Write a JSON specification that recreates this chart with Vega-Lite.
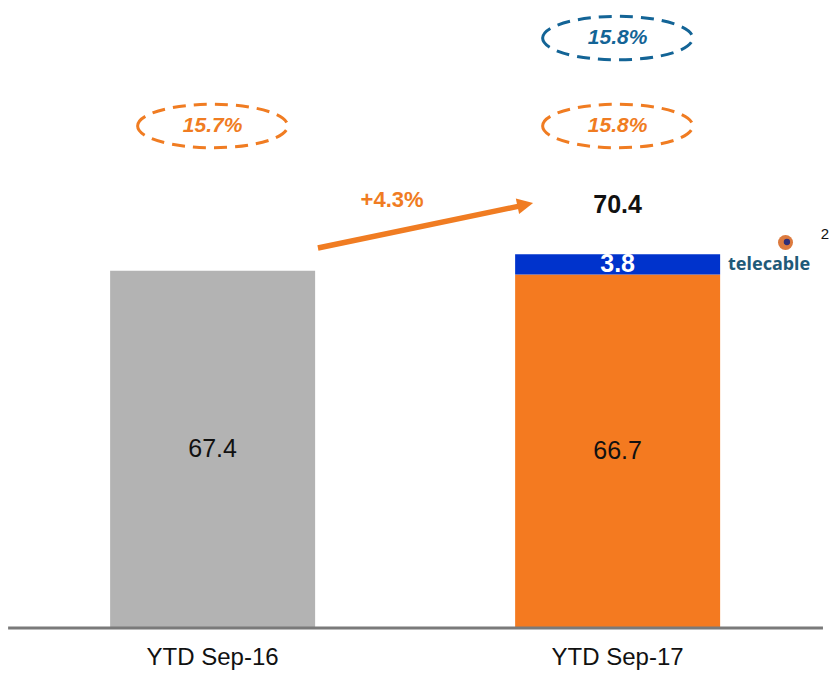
{
  "$schema": "https://vega.github.io/schema/vega-lite/v6.json",
  "width": 832,
  "height": 673,
  "padding": 0,
  "autosize": {"type": "none"},
  "background": "white",
  "config": {
    "view": {"stroke": null},
    "text": {"font": "Liberation Sans"}
  },
  "datasets": {
    "bars": [
      {"period": "YTD Sep-16", "pos": 1, "segment": "Sep-16", "value": 67.4, "order": 1},
      {"period": "YTD Sep-17", "pos": 2, "segment": "Organic", "value": 66.7, "order": 1},
      {"period": "YTD Sep-17", "pos": 2, "segment": "Telecable", "value": 3.8, "order": 2}
    ],
    "periods": [
      {"period": "YTD Sep-16", "pos": 1},
      {"period": "YTD Sep-17", "pos": 2}
    ],
    "margin": [
      {"pos": 1, "margin": "15.7%"},
      {"pos": 2, "margin": "15.8%"}
    ],
    "marginTotal": [
      {"pos": 2, "margin": "15.8%"}
    ],
    "total": [
      {"pos": 2, "total": "70.4"}
    ],
    "growth": [
      {"growth": "+4.3%"}
    ],
    "logo": [
      {"brand": "telecable", "note": "2"}
    ]
  },
  "layer": [
    {
      "data": {"name": "bars"},
      "transform": [
        {"stack": "value", "groupby": ["pos"], "sort": [{"field": "order", "order": "ascending"}], "as": ["v0", "v1"]}
      ],
      "mark": {"type": "bar", "width": 205, "orient": "vertical"},
      "encoding": {
        "x": {"field": "pos", "type": "quantitative", "axis": null, "scale": {"domain": [0.475, 2.5293], "nice": false, "zero": false, "padding": 0}},
        "y": {"field": "v1", "type": "quantitative", "axis": null, "scale": {"domain": [-8.49, 118.49], "nice": false, "zero": false, "padding": 0}},
        "y2": {"field": "v0"},
        "color": {"field": "segment", "type": "nominal", "legend": null, "scale": {"domain": ["Sep-16", "Organic", "Telecable"], "range": ["#b3b3b3", "#f47a20", "#0033cc"]}}
      }
    },
    {
      "data": {"values": [{}]},
      "mark": {"type": "rule", "color": "#7a7a7a", "strokeWidth": 3},
      "encoding": {
        "x": {"datum": 0.495, "type": "quantitative"},
        "x2": {"datum": 2.507},
        "y": {"datum": 0, "type": "quantitative"}
      }
    },
    {
      "data": {"name": "bars"},
      "transform": [
        {"stack": "value", "groupby": ["pos"], "sort": [{"field": "order", "order": "ascending"}], "as": ["v0", "v1"]},
        {"fold": ["v0", "v1"], "as": ["edgeName", "edge"]},
        {"aggregate": [{"op": "mean", "field": "edge", "as": "mid"}], "groupby": ["pos", "segment", "value"]},
        {"filter": "datum.segment !== 'Telecable'"}
      ],
      "mark": {"type": "text", "fontSize": 25, "color": "#111111", "baseline": "middle", "align": "center"},
      "encoding": {
        "x": {"field": "pos", "type": "quantitative"},
        "y": {"field": "mid", "type": "quantitative"},
        "text": {"field": "value", "type": "quantitative", "format": ".1f"}
      }
    },
    {
      "data": {"name": "bars"},
      "transform": [
        {"stack": "value", "groupby": ["pos"], "sort": [{"field": "order", "order": "ascending"}], "as": ["v0", "v1"]},
        {"fold": ["v0", "v1"], "as": ["edgeName", "edge"]},
        {"aggregate": [{"op": "mean", "field": "edge", "as": "mid"}], "groupby": ["pos", "segment", "value"]},
        {"filter": "datum.segment === 'Telecable'"}
      ],
      "mark": {"type": "text", "fontSize": 25, "fontWeight": "bold", "color": "white", "baseline": "middle", "align": "center"},
      "encoding": {
        "x": {"field": "pos", "type": "quantitative"},
        "y": {"field": "mid", "type": "quantitative"},
        "text": {"field": "value", "type": "quantitative", "format": ".1f"}
      }
    },
    {
      "data": {"name": "periods"},
      "mark": {"type": "text", "fontSize": 24, "color": "#111111", "baseline": "middle", "align": "center"},
      "encoding": {
        "x": {"field": "pos", "type": "quantitative"},
        "y": {"datum": -5.66, "type": "quantitative"},
        "text": {"field": "period"}
      }
    },
    {
      "data": {"name": "margin"},
      "mark": {"type": "point", "shape": "M -1 0 C -1 -0.16 -0.5523 -0.29 0 -0.29 C 0.5523 -0.29 1 -0.16 1 0 C 1 0.16 0.5523 0.29 0 0.29 C -0.5523 0.29 -1 0.16 -1 0 Z", "size": 22500, "filled": false, "stroke": "#f07c22", "strokeWidth": 3, "strokeDash": [13, 8], "opacity": 1},
      "encoding": {
        "x": {"field": "pos", "type": "quantitative"},
        "y": {"datum": 94.72, "type": "quantitative"}
      }
    },
    {
      "data": {"name": "margin"},
      "mark": {"type": "text", "fontSize": 21, "fontWeight": "bold", "fontStyle": "italic", "color": "#f07c22", "baseline": "middle", "align": "center"},
      "encoding": {
        "x": {"field": "pos", "type": "quantitative"},
        "y": {"datum": 94.72, "type": "quantitative"},
        "text": {"field": "margin"}
      }
    },
    {
      "data": {"name": "marginTotal"},
      "mark": {"type": "point", "shape": "M -1 0 C -1 -0.16 -0.5523 -0.29 0 -0.29 C 0.5523 -0.29 1 -0.16 1 0 C 1 0.16 0.5523 0.29 0 0.29 C -0.5523 0.29 -1 0.16 -1 0 Z", "size": 22500, "filled": false, "stroke": "#136496", "strokeWidth": 3, "strokeDash": [13, 8], "opacity": 1},
      "encoding": {
        "x": {"field": "pos", "type": "quantitative"},
        "y": {"datum": 111.3, "type": "quantitative"}
      }
    },
    {
      "data": {"name": "marginTotal"},
      "mark": {"type": "text", "fontSize": 21, "fontWeight": "bold", "fontStyle": "italic", "color": "#136496", "baseline": "middle", "align": "center"},
      "encoding": {
        "x": {"field": "pos", "type": "quantitative"},
        "y": {"datum": 111.3, "type": "quantitative"},
        "text": {"field": "margin"}
      }
    },
    {
      "data": {"name": "total"},
      "mark": {"type": "text", "fontSize": 25, "fontWeight": "bold", "color": "#111111", "baseline": "middle", "align": "center"},
      "encoding": {
        "x": {"field": "pos", "type": "quantitative"},
        "y": {"datum": 79.8, "type": "quantitative"},
        "text": {"field": "total"}
      }
    },
    {
      "data": {"values": [{}]},
      "mark": {"type": "rule", "color": "#f07c22", "strokeWidth": 5.5},
      "encoding": {
        "x": {"datum": 1.26, "type": "quantitative"},
        "y": {"datum": 71.7, "type": "quantitative"},
        "x2": {"datum": 1.757},
        "y2": {"datum": 79.6}
      }
    },
    {
      "data": {"values": [{}]},
      "mark": {"type": "point", "shape": "M 1 0 L -1 -1 L -1 1 Z", "size": 256, "filled": true, "color": "#f07c22", "opacity": 1, "angle": 348},
      "encoding": {
        "x": {"datum": 1.772, "type": "quantitative"},
        "y": {"datum": 79.89, "type": "quantitative"}
      }
    },
    {
      "data": {"name": "growth"},
      "mark": {"type": "text", "fontSize": 22, "fontWeight": "bold", "color": "#f07c22", "baseline": "middle", "align": "center"},
      "encoding": {
        "x": {"datum": 1.443, "type": "quantitative"},
        "y": {"datum": 80.75, "type": "quantitative"},
        "text": {"field": "growth"}
      }
    },
    {
      "data": {"values": [{}]},
      "mark": {"type": "point", "shape": "circle", "size": 225, "filled": true, "color": "#dc7a3e", "opacity": 1},
      "encoding": {
        "x": {"datum": 2.4145, "type": "quantitative"},
        "y": {"datum": 72.74, "type": "quantitative"}
      }
    },
    {
      "data": {"values": [{}]},
      "mark": {"type": "point", "shape": "circle", "size": 40, "filled": true, "color": "#2f2f78", "opacity": 1},
      "encoding": {
        "x": {"datum": 2.418, "type": "quantitative"},
        "y": {"datum": 72.83, "type": "quantitative"}
      }
    },
    {
      "data": {"name": "logo"},
      "mark": {"type": "text", "fontSize": 18, "fontWeight": "bold", "color": "#1f5a78", "baseline": "middle", "align": "center", "font": "Noto Sans"},
      "encoding": {
        "x": {"datum": 2.374, "type": "quantitative"},
        "y": {"datum": 68.58, "type": "quantitative"},
        "text": {"field": "brand"}
      }
    },
    {
      "data": {"name": "logo"},
      "mark": {"type": "text", "fontSize": 15, "color": "#111111", "baseline": "middle", "align": "center"},
      "encoding": {
        "x": {"datum": 2.512, "type": "quantitative"},
        "y": {"datum": 74.34, "type": "quantitative"},
        "text": {"field": "note"}
      }
    }
  ]
}
